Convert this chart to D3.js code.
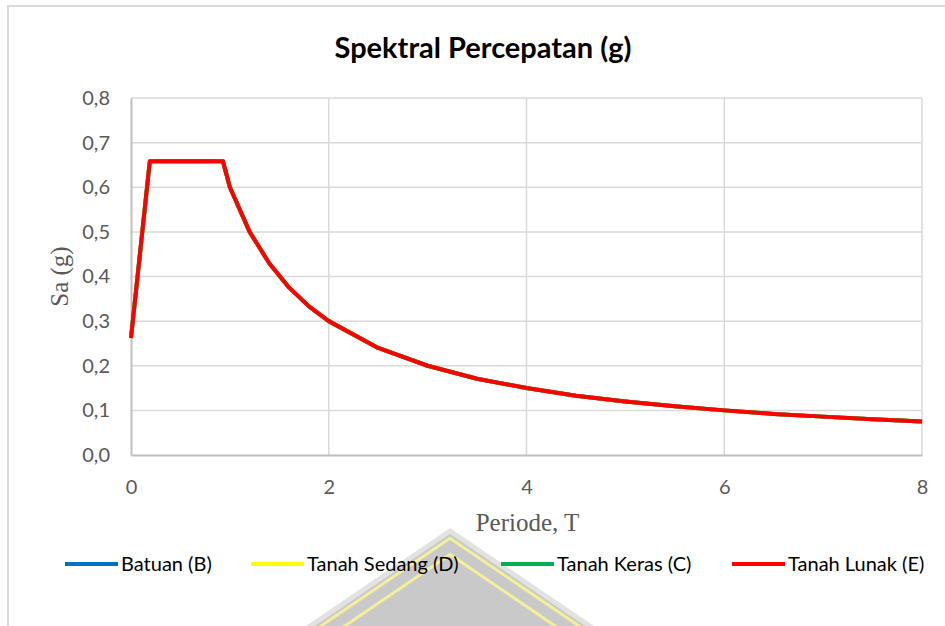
<!DOCTYPE html>
<html>
<head>
<meta charset="utf-8">
<script src="https://cdn.jsdelivr.net/npm/d3@7"></script>
<style>
  html, body { margin: 0; padding: 0; background: #ffffff; }
  svg { display: block; }
</style>
</head>
<body>
<svg id="chart" width="945" height="626"></svg>
<script>
// ---- data ----
const periods = [0, 0.19, 0.93, 1.0, 1.2, 1.4, 1.6, 1.8, 2.0, 2.5, 3.0, 3.5, 4.0, 4.5, 5.0, 5.5, 6.0, 6.5, 7.0, 7.5, 8.0];
const batuanB      = [0.262, 0.658, 0.658, 0.600, 0.500, 0.429, 0.375, 0.333, 0.300, 0.240, 0.200, 0.171, 0.150, 0.133, 0.120, 0.109, 0.100, 0.092, 0.086, 0.080, 0.075];
const tanahSedangD = [0.262, 0.658, 0.658, 0.600, 0.500, 0.429, 0.375, 0.333, 0.300, 0.240, 0.200, 0.171, 0.150, 0.133, 0.120, 0.109, 0.100, 0.092, 0.086, 0.080, 0.075];
const tanahKerasC  = [0.262, 0.658, 0.658, 0.600, 0.500, 0.429, 0.375, 0.333, 0.300, 0.240, 0.200, 0.171, 0.150, 0.133, 0.120, 0.109, 0.100, 0.092, 0.086, 0.080, 0.075];
const tanahLunakE  = [0.262, 0.658, 0.658, 0.600, 0.500, 0.429, 0.375, 0.333, 0.300, 0.240, 0.200, 0.171, 0.150, 0.133, 0.120, 0.109, 0.100, 0.092, 0.086, 0.080, 0.075];
const seriesNames  = ["Batuan (B)", "Tanah Sedang (D)", "Tanah Keras (C)", "Tanah Lunak (E)"];
const seriesColors = ["#0070c0", "#ffff00", "#00b050", "#ff0000"];
const xTicks = [0, 2, 4, 6, 8];
const yTicks = [0, 0.1, 0.2, 0.3, 0.4, 0.5, 0.6, 0.7, 0.8];
const titleText = "Spektral Percepatan (g)";
const xTitle = "Periode, T";
const yTitle = "Sa (g)";

const seriesValues = [batuanB, tanahSedangD, tanahKerasC, tanahLunakE];

// ---- layout ----
const svg = d3.select("#chart");
const pLeft = 131, pRight = 922, pTop = 98, pBottom = 455;
const x = d3.scaleLinear().domain([0, 8]).range([pLeft, pRight]);
const y = d3.scaleLinear().domain([0, 0.8]).range([pBottom, pTop]);
const fmt = v => d3.format(".1f")(v).replace(".", ",");

// chart border
svg.append("rect")
  .attr("x", 8).attr("y", 6).attr("width", 960).attr("height", 640)
  .attr("fill", "#ffffff").attr("stroke", "#d9d9d9").attr("stroke-width", 2);

// watermark triangle (behind legend)
const wm = svg.append("g");
const apexX = 450, apexY = 531;
const slope = 1.47;
function tri(off) {
  const ay = apexY + off * 1.8;
  const yb = 700;
  const hw = (yb - ay) * slope;
  return [[apexX, ay], [apexX - hw, yb], [apexX + hw, yb]];
}
wm.append("polygon").attr("points", tri(0).join(" "))
  .attr("fill", "#c9c9c9").attr("stroke", "#e2e2e2").attr("stroke-width", 5);
wm.append("polygon").attr("points", tri(4).join(" "))
  .attr("fill", "none").attr("stroke", "#f3ef9a").attr("stroke-width", 3);
wm.append("polygon").attr("points", tri(13).join(" "))
  .attr("fill", "none").attr("stroke", "#f3ef9a").attr("stroke-width", 3);

// gridlines
svg.append("g").selectAll("line").data(yTicks.slice(1)).join("line")
  .attr("x1", pLeft).attr("x2", pRight)
  .attr("y1", d => y(d)).attr("y2", d => y(d))
  .attr("stroke", "#d9d9d9").attr("stroke-width", 1.5);
svg.append("g").selectAll("line").data(xTicks.slice(1)).join("line")
  .attr("y1", pTop).attr("y2", pBottom)
  .attr("x1", d => x(d)).attr("x2", d => x(d))
  .attr("stroke", "#d9d9d9").attr("stroke-width", 1.5);

// axes
const xAxis = d3.axisBottom(x).tickValues(xTicks).tickSize(0).tickPadding(25).tickFormat(d3.format("d"));
const yAxis = d3.axisLeft(y).tickValues(yTicks).tickSize(0).tickPadding(21).tickFormat(fmt);

const gx = svg.append("g").attr("transform", `translate(0,${pBottom})`).call(xAxis);
const gy = svg.append("g").attr("transform", `translate(${pLeft},0)`).call(yAxis);
[gx, gy].forEach(g => {
  g.select(".domain").attr("stroke", "#bfbfbf").attr("stroke-width", 2);
  g.selectAll("text").attr("fill", "#595959")
    .style("font-family", "Lato, 'Open Sans', sans-serif").style("font-size", "20px");
});

// lines
const line = d3.line().x((d, i) => x(periods[i])).y(d => y(d));
seriesValues.forEach((vals, k) => {
  svg.append("path").datum(vals)
    .attr("d", line)
    .attr("fill", "none")
    .attr("stroke", seriesColors[k])
    .attr("stroke-width", 4)
    .attr("stroke-linejoin", "round");
});

// title
svg.append("text").attr("x", 483).attr("y", 58)
  .attr("text-anchor", "middle")
  .style("font-family", "Lato, 'Open Sans', sans-serif")
  .style("font-weight", "bold").style("font-size", "29px")
  .attr("fill", "#000000").text(titleText);

// axis titles
svg.append("text").attr("x", (pLeft + pRight) / 2 + 1).attr("y", 531)
  .attr("text-anchor", "middle")
  .style("font-family", "'Liberation Serif', 'DejaVu Serif', serif")
  .style("font-size", "25px").attr("fill", "#595959").text(xTitle);
svg.append("text")
  .attr("transform", `translate(68,${(pTop + pBottom) / 2}) rotate(-90)`)
  .attr("text-anchor", "middle")
  .style("font-family", "'Liberation Serif', 'DejaVu Serif', serif")
  .style("font-size", "25px").attr("fill", "#595959").text(yTitle);

// legend
const legendX = [65, 251, 501, 732];
const legY = 564;
const lg = svg.append("g");
seriesNames.forEach((name, k) => {
  lg.append("line")
    .attr("x1", legendX[k]).attr("x2", legendX[k] + 53)
    .attr("y1", legY).attr("y2", legY)
    .attr("stroke", seriesColors[k]).attr("stroke-width", 4);
  lg.append("text")
    .attr("x", legendX[k] + 56).attr("y", legY)
    .attr("dy", "0.35em")
    .style("font-family", "Lato, 'Open Sans', sans-serif")
    .style("font-size", "20px").attr("fill", "#000000").text(name);
});
</script>
</body>
</html>
